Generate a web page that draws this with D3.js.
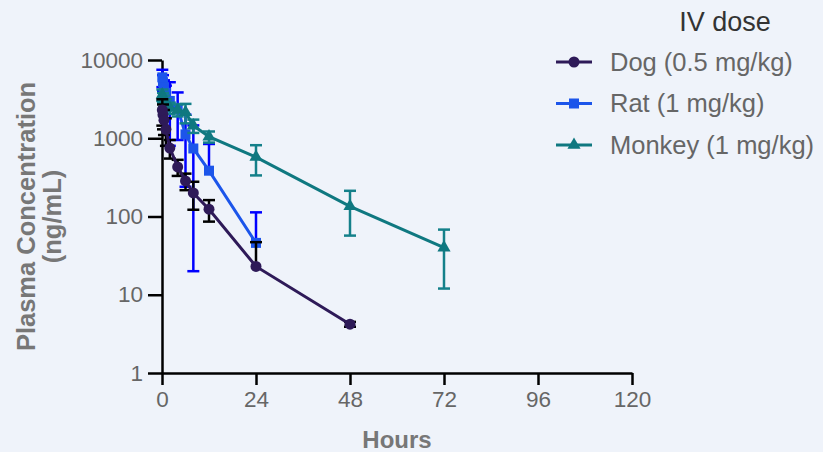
<!DOCTYPE html>
<html>
  <head>
    <script src="https://d3js.org/d3.v7.min.js"></script>
    <style>
      body { margin: 0; background: #eff3fa; }
      svg { display: block; font-family: Arial, "Liberation Sans", sans-serif; }
      .tick-label { fill: #666; font-size: 22.5px; }
      .axis-title { fill: #777; font-weight: bold; }
      .legend-text { fill: #666; font-size: 25.5px; }
    </style>
  </head>
  <body>
    <svg id="chart" width="823" height="452"></svg>
    <script>
      // ---- data ----
      const dogHours = [0.083, 0.25, 0.5, 1, 2, 4, 6, 8, 12, 24, 48];
      const dogMean  = [2300, 2000, 1700, 1300, 750, 430, 285, 200, 124, 23, 4.2];
      const dogSD    = [850, 700, 600, 500, 200, 100, 68, 78, 38, 24, 0.3];

      const ratHours = [0.083, 0.25, 0.5, 1, 2, 4, 6, 8, 12, 24];
      const ratMean  = [6000, 5200, 4500, 3800, 3000, 2400, 1120, 740, 385, 46];
      const ratSD    = [1500, 1200, 1000, 900, 2200, 1450, 880, 720, 460, 67];

      const monkeyHours = [0.083, 0.25, 0.5, 1, 2, 4, 6, 8, 12, 24, 48, 72];
      const monkeyMean  = [3600, 3300, 3000, 2700, 2450, 2300, 2150, 1450, 1050, 575, 135, 40];
      const monkeySD    = [600, 500, 500, 450, 400, 400, 600, 280, 170, 240, 78, 28];

      const xTicks = [0, 24, 48, 72, 96, 120];
      const yTicks = [1, 10, 100, 1000, 10000];

      const seriesNames = ["Dog (0.5 mg/kg)", "Rat (1 mg/kg)", "Monkey (1 mg/kg)"];

      const svg = d3.select("svg#chart");
      const margin = {top: 60, left: 162};
      const chartWidth = 470;
      const chartHeight = 313;

      const x = d3.scaleLinear().domain([0, 120]).range([margin.left, margin.left + chartWidth]);
      const y = d3.scaleLog().domain([1, 10000]).range([margin.top + chartHeight, margin.top]);

      const series = [
        {name: seriesNames[0], hours: dogHours, mean: dogMean, sd: dogSD,
         line: "#2e1a58", marker: "#2e1a58", err: "#000000", shape: "circle"},
        {name: seriesNames[1], hours: ratHours, mean: ratMean, sd: ratSD,
         line: "#1c55ea", marker: "#1c55ea", err: "#0000ff", shape: "square"},
        {name: seriesNames[2], hours: monkeyHours, mean: monkeyMean, sd: monkeySD,
         line: "#0f7880", marker: "#0f7880", err: "#14808a", shape: "triangle"}
      ];
      series.forEach(s => {
        s.points = s.hours.map((h, i) => ({h: h, v: s.mean[i], sd: s.sd[i]}));
      });

      // ---- axes ----
      const xAxis = d3.axisBottom(x).tickValues(xTicks).tickSize(12).tickPadding(6).tickSizeOuter(0);
      const gx = svg.append("g")
        .attr("transform", `translate(0,${margin.top + chartHeight})`)
        .call(xAxis);
      gx.select(".domain").attr("stroke", "#000").attr("stroke-width", 2.5);
      gx.selectAll(".tick line").attr("stroke", "#000").attr("stroke-width", 2.5);
      gx.selectAll(".tick text").attr("class", "tick-label").attr("font-size", null).attr("font-family", null).attr("fill", null);

      const yAxis = d3.axisLeft(y).tickValues(yTicks).tickFormat(d3.format("d")).tickSize(14).tickPadding(5).tickSizeOuter(0);
      const gy = svg.append("g")
        .attr("transform", `translate(${margin.left},0)`)
        .call(yAxis);
      gy.select(".domain").attr("stroke", "#000").attr("stroke-width", 2.5);
      gy.selectAll(".tick line").attr("stroke", "#000").attr("stroke-width", 2.5);
      gy.selectAll(".tick text").attr("class", "tick-label").attr("font-size", null).attr("font-family", null).attr("fill", null);

      svg.append("text").attr("class", "axis-title")
        .attr("font-size", 24)
        .attr("x", x(60)).attr("y", 448)
        .attr("text-anchor", "middle").text("Hours");

      const yTitle = svg.append("text").attr("class", "axis-title")
        .attr("font-size", 25.5)
        .attr("transform", `translate(35,${y(100)}) rotate(-90)`)
        .attr("text-anchor", "middle");
      yTitle.append("tspan").attr("x", 0).attr("dy", 0).text("Plasma Concentration");
      yTitle.append("tspan").attr("x", 0).attr("dy", 26).text("(ng/mL)");

      // ---- markers ----
      function drawMarker(g, shape, color) {
        if (shape === "circle") {
          g.append("circle").attr("r", 5.5).attr("fill", color);
        } else if (shape === "square") {
          g.append("rect").attr("x", -5).attr("y", -5).attr("width", 10).attr("height", 10).attr("fill", color);
        } else {
          g.append("path").attr("d", d3.symbol(d3.symbolTriangle, 75)()).attr("fill", color);
        }
      }

      const capW = 6;
      const drawOrder = [series[1], series[2], series[0]];
      drawOrder.forEach(s => {
        const g = svg.append("g");
        // error bars
        s.points.forEach(p => {
          const cx = x(p.h);
          const top = y(p.v + p.sd);
          const lowVal = p.v - p.sd;
          const bottom = lowVal > 0 ? y(Math.max(lowVal, 1)) : y(p.v);
          g.append("line").attr("x1", cx).attr("x2", cx).attr("y1", top).attr("y2", bottom)
            .attr("stroke", s.err).attr("stroke-width", 2.5);
          g.append("line").attr("x1", cx - capW).attr("x2", cx + capW).attr("y1", top).attr("y2", top)
            .attr("stroke", s.err).attr("stroke-width", 2.5);
          if (lowVal > 1) {
            g.append("line").attr("x1", cx - capW).attr("x2", cx + capW).attr("y1", bottom).attr("y2", bottom)
              .attr("stroke", s.err).attr("stroke-width", 2.5);
          }
        });
        // line
        g.append("path")
          .datum(s.points)
          .attr("fill", "none")
          .attr("stroke", s.line)
          .attr("stroke-width", 3)
          .attr("d", d3.line().x(d => x(d.h)).y(d => y(d.v)));
        // markers
        s.points.forEach(p => {
          const mg = g.append("g").attr("transform", `translate(${x(p.h)},${y(p.v)})`);
          drawMarker(mg, s.shape, s.marker);
        });
      });

      // ---- legend ----
      svg.append("text")
        .attr("x", 725).attr("y", 31)
        .attr("text-anchor", "middle")
        .attr("fill", "#333").attr("font-size", 27)
        .text("IV dose");

      series.forEach((s, i) => {
        const ly = 62 + i * 41.5;
        const lg = svg.append("g");
        lg.append("line").attr("x1", 556).attr("x2", 592).attr("y1", ly).attr("y2", ly)
          .attr("stroke", s.line).attr("stroke-width", 3);
        const mg = lg.append("g").attr("transform", `translate(574,${ly})`);
        drawMarker(mg, s.shape, s.marker);
        lg.append("text").attr("class", "legend-text")
          .attr("x", 610).attr("y", ly).attr("dy", "0.35em")
          .text(s.name);
      });
    </script>
  </body>
</html>
